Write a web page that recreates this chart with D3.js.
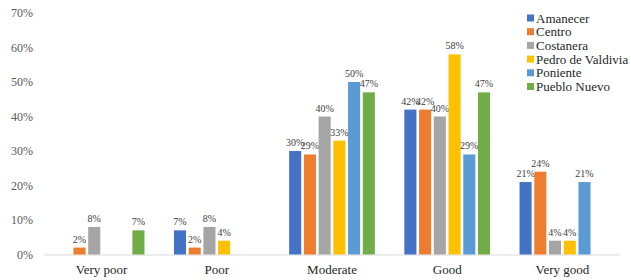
<!DOCTYPE html>
<html>
<head>
<meta charset="utf-8">
<script src="https://cdn.jsdelivr.net/npm/d3@7"></script>
<style>
  body { margin: 0; background: #fff; }
</style>
</head>
<body>
<div id="chart"></div>
<script>
// categories and series
var categories = ["Very poor", "Poor", "Moderate", "Good", "Very good"];
var seriesNames = ["Amanecer", "Centro", "Costanera", "Pedro de Valdivia", "Poniente", "Pueblo Nuevo"];
var colors = ["#4472C4", "#ED7D31", "#A5A5A5", "#FFC000", "#5B9BD5", "#70AD47"];

var amanecer = [0, 7, 30, 42, 21];
var centro = [2, 2, 29, 42, 24];
var costanera = [8, 8, 40, 40, 4];
var pedroDeValdivia = [0, 4, 33, 58, 4];
var poniente = [0, 0, 50, 29, 21];
var puebloNuevo = [7, 0, 47, 47, 0];

var yTicks = [0, 10, 20, 30, 40, 50, 60, 70];

var values = [amanecer, centro, costanera, pedroDeValdivia, poniente, puebloNuevo];

var FONT = "'Times New Roman', 'Liberation Serif', Tinos, 'Noto Serif', 'DejaVu Serif', Times, serif";

var W = 631, H = 280;
var margin = {top: 13, right: 11, bottom: 25.5, left: 44},
  width = W - margin.left - margin.right,
  height = H - margin.top - margin.bottom;

var svg = d3.select("#chart")
  .append("svg")
  .attr("width", W)
  .attr("height", H)
  .attr("font-family", FONT)
  .append("g")
  .attr("transform", "translate(" + margin.left + "," + margin.top + ")");

var x0 = d3.scaleBand()
  .domain(categories)
  .range([0, width])
  .paddingInner(0.21)
  .paddingOuter(0.105);

var x1 = d3.scaleBand()
  .domain(seriesNames)
  .range([0, x0.bandwidth()])
  .padding(0.18);

var y = d3.scaleLinear()
  .domain([0, 70])
  .range([height, 0]);

// y axis labels only
var yAxis = svg.append("g")
  .call(d3.axisLeft(y).tickValues(yTicks).tickFormat(function(d) { return d + "%"; }).tickSize(0).tickPadding(11))
  .attr("font-family", FONT);
yAxis.select(".domain").remove();
yAxis.selectAll("text")
  .attr("font-size", 12)
  .attr("fill", "#595959");

// x axis
var xAxis = svg.append("g")
  .attr("transform", "translate(0," + height + ")")
  .call(d3.axisBottom(x0).tickSize(0).tickPadding(10))
  .attr("font-family", FONT);
xAxis.select(".domain").attr("stroke", "#D9D9D9");
xAxis.selectAll("text")
  .attr("font-size", 13)
  .attr("fill", "#262626");

// bars
var groups = svg.selectAll(".grp")
  .data(categories)
  .enter()
  .append("g")
  .attr("transform", function(d) { return "translate(" + x0(d) + ",0)"; });

var cells = groups.selectAll("g")
  .data(function(c, i) {
    return seriesNames.map(function(s, j) { return {s: s, j: j, v: values[j][i]}; });
  })
  .enter()
  .append("g");

cells.filter(function(d) { return d.v > 0; })
  .append("rect")
  .attr("x", function(d) { return x1(d.s); })
  .attr("y", function(d) { return y(d.v); })
  .attr("width", x1.bandwidth())
  .attr("height", function(d) { return height - y(d.v); })
  .attr("fill", function(d) { return colors[d.j]; });

cells.filter(function(d) { return d.v > 0; })
  .append("text")
  .attr("x", function(d) { return x1(d.s) + x1.bandwidth() / 2; })
  .attr("y", function(d) { return y(d.v) - 5; })
  .attr("text-anchor", "middle")
  .attr("font-size", 10)
  .attr("fill", "#404040")
  .text(function(d) { return d.v + "%"; });

// legend
var legend = svg.append("g")
  .attr("transform", "translate(" + (527 - margin.left) + "," + (18 - margin.top) + ")");

var items = legend.selectAll("g")
  .data(seriesNames)
  .enter()
  .append("g")
  .attr("transform", function(d, i) { return "translate(0," + i * 13.7 + ")"; });

items.append("rect")
  .attr("x", 0)
  .attr("y", -3.5)
  .attr("width", 7)
  .attr("height", 7)
  .attr("fill", function(d, i) { return colors[i]; });

items.append("text")
  .attr("x", 9)
  .attr("y", 0)
  .attr("dy", "0.35em")
  .attr("font-size", 13)
  .attr("fill", "#262626")
  .text(function(d) { return d; });
</script>
</body>
</html>
